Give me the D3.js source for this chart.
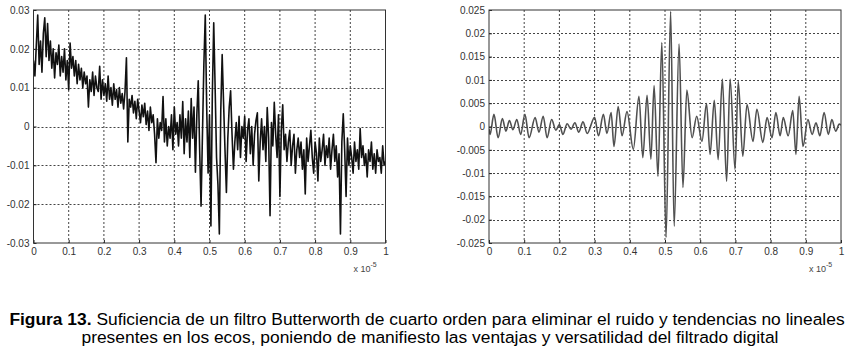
<!DOCTYPE html>
<html>
<head>
<meta charset="utf-8">
<script src="https://cdn.jsdelivr.net/npm/d3@7"></script>
<style>
  body { margin: 0; background: #fff; }
  svg { display: block; }
  text { font-family: "Liberation Sans", Arial, sans-serif; }
</style>
</head>
<body>
<div id="figure"></div>
<script>
// x axis (units of 1e-5)
const xTicks = [0, 0.1, 0.2, 0.3, 0.4, 0.5, 0.6, 0.7, 0.8, 0.9, 1];
const xTickLabels = ["0", "0.1", "0.2", "0.3", "0.4", "0.5", "0.6", "0.7", "0.8", "0.9", "1"];

// y axes (values stored x 1e-3)
const leftYTicks = [-30, -20, -10, 0, 10, 20, 30];
const leftYTickLabels = ["-0.03", "-0.02", "-0.01", "0", "0.01", "0.02", "0.03"];
const rightYTicks = [-25, -20, -15, -10, -5, 0, 5, 10, 15, 20, 25];
const rightYTickLabels = ["-0.025", "-0.02", "-0.015", "-0.01", "-0.005", "0", "0.005", "0.01", "0.015", "0.02", "0.025"];

// raw echo, sampled every 0.004 x 1e-5 (values x 1e-3)
const rawStep = 0.004;
const rawValues = [
  17, 13, 21, 28.7, 16, 22, 14, 24, 28, 18,
  26.5, 17, 22, 15, 20, 12.5, 19, 16, 21, 13,
  18, 14, 20, 12, 17, 9.5, 21.5, 15, 18, 13,
  17, 11, 16, 12, 15, 10, 14, 11, 13, 5,
  12, 9, 14, 8, 13, 10, 9, 15.5, 7, 12,
  8, 11, 6.5, 13, 7, 10, 5.5, 11, 7, 9.5,
  5, 10, 6, 8.5, 4.5, 9, 17.7, -4, 7, 5,
  8, 3.5, 6.5, 2, 7, 4, 1, 5.5, 2.5, 6,
  0.5, 4, -1, 5, 1, 3, -2, -9.3, 2, -3,
  1, -1, 7.7, -4, 2, -5, 0, -3, 3, -6,
  5, -2, 1, -5, 3, -3, 6.4, -7, 2, -4,
  4, -8, 7.2, -3, 5, -11.8, 3, 11.8, -6, -20.5,
  -2, 16, 28.7, 5, -12, 3, -25.6, 8, 26.7, 10,
  -8, -15, -27.7, 4, 18.5, 6, -6, -17, -3, 5,
  9.2, -2, -11, -4, 1, -6, 2.6, -8, 0, -3,
  2.6, -9, -1, 2, -7, 0, -10, -2, 1.5, 3.5,
  -14, -4, 2, -6, 0, -9, 4.9, -3, -23, 1,
  -5, 6.2, -2, -8, 3, -18, -1, 5.6, -6, -2,
  -9, -4, -1, -10, -5, -2, -12, -6, -3, -8,
  -4, -11, -6, -17.4, -3, -9, -5, -1, -8, -12,
  -4, -7, -14, -3, -9, -6, -2, -10, -5, -8,
  -3, -11, -6, -2, -9, -5, -13, -7, -27.7, -4,
  3.3, -6, -18, -3, -10, -5, -8, -12, -4, -9,
  -6, -11, -0.5, -8, -5, -10, -7, -13, -6, -9,
  -4, -11, -7, -12, -6, -9, -8, -12, -5, -10,
  -9
];

// filtered echo: peaks and troughs
const filteredX = [
  0, 0.003, 0.014, 0.026, 0.038, 0.048, 0.058, 0.068, 0.079, 0.090,
  0.102, 0.114, 0.131, 0.142, 0.154, 0.165, 0.178, 0.190, 0.200, 0.210,
  0.222, 0.233, 0.244, 0.255, 0.267, 0.279, 0.300, 0.311, 0.325, 0.335,
  0.347, 0.355, 0.367, 0.378, 0.392, 0.410, 0.426, 0.437, 0.449, 0.460,
  0.469, 0.480, 0.491, 0.503, 0.516, 0.526, 0.540, 0.551, 0.562, 0.577,
  0.590, 0.605, 0.618, 0.628, 0.640, 0.651, 0.663, 0.675, 0.685, 0.699,
  0.708, 0.721, 0.733, 0.750, 0.761, 0.778, 0.790, 0.804, 0.815, 0.827,
  0.836, 0.850, 0.863, 0.872, 0.881, 0.892, 0.906, 0.918, 0.929, 0.940,
  0.952, 0.964, 0.974, 0.985, 0.995, 1
];
const filteredValues = [
  -0.5, -1.7, 2.6, -2.4, 1.7, -1.0, 1.3, -0.7, 1.5, -1.7,
  2.6, -2.4, 1.9, -1.2, 2.2, -2.4, 1.5, -0.8, 0.4, -1.7,
  0.6, -0.6, 0.8, -1.2, 1.0, -1.5, 2.0, -2.0, 2.6, -1.5,
  3.0, -4.3, 4.3, -2.0, 3.2, -4.9, 6.5, -6.7, 6.7, -7.0,
  8.8, -10.7, 18.0, -23.8, 24.7, -21.4, 17.7, -13.1, 7.8, -2.4,
  2.2, -3.2, 4.9, -6.0, 5.6, -7.1, 10.2, -11.8, 10.2, -9.2,
  9.7, -6.4, 4.7, -3.2, 3.7, -3.4, 1.9, -2.4, 3.0, -2.0,
  1.9, -2.0, 3.4, -6.0, 6.5, -4.3, 1.5, -1.7, 0.8, -2.0,
  3.0, -1.7, 1.5, -1.0, 0.5, 0.3
];

const width = 854;
const height = 350;
const plotTop = 10;
const plotBottom = 243;

const svg = d3
  .select("#figure")
  .append("svg")
  .attr("width", width)
  .attr("height", height);

function drawPanel(opts) {
  const g = svg.append("g");

  const xScale = d3.scaleLinear().domain([0, 1]).range([opts.left, opts.right]);
  const yScale = d3
    .scaleLinear()
    .domain(opts.yDomain)
    .range([plotBottom, plotTop]);

  // dotted grid
  g.append("g")
    .selectAll("line")
    .data(xTicks.slice(1, -1))
    .join("line")
    .attr("x1", (d) => xScale(d))
    .attr("x2", (d) => xScale(d))
    .attr("y1", plotTop)
    .attr("y2", plotBottom)
    .attr("stroke", "#444")
    .attr("stroke-width", 1)
    .attr("stroke-dasharray", "2,2");

  g.append("g")
    .selectAll("line")
    .data(opts.yTicks.slice(1, -1))
    .join("line")
    .attr("x1", opts.left)
    .attr("x2", opts.right)
    .attr("y1", (d) => Math.round(yScale(d)) + 0.5)
    .attr("y2", (d) => Math.round(yScale(d)) + 0.5)
    .attr("stroke", "#444")
    .attr("stroke-width", 1)
    .attr("stroke-dasharray", "2,2");

  // clip for signal
  const clipId = "clip-" + opts.name;
  svg
    .append("clipPath")
    .attr("id", clipId)
    .append("rect")
    .attr("x", opts.left)
    .attr("y", plotTop)
    .attr("width", opts.right - opts.left)
    .attr("height", plotBottom - plotTop);

  const line = d3
    .line()
    .x((d) => xScale(d.x))
    .y((d) => yScale(d.y))
    .curve(opts.curve);

  g.append("path")
    .datum(opts.data)
    .attr("clip-path", `url(#${clipId})`)
    .attr("fill", "none")
    .attr("stroke", opts.stroke)
    .attr("stroke-width", opts.strokeWidth)
    .attr("stroke-linejoin", "round")
    .attr("d", line);

  // axes
  const xAxisG = g
    .append("g")
    .attr("transform", `translate(0,${plotBottom})`)
    .call(
      d3
        .axisBottom(xScale)
        .tickValues(xTicks)
        .tickFormat((d, i) => xTickLabels[i])
        .tickSize(-3)
        .tickPadding(5)
    );
  xAxisG.select(".domain").remove();

  const yAxisG = g
    .append("g")
    .attr("transform", `translate(${opts.left},0)`)
    .call(
      d3
        .axisLeft(yScale)
        .tickValues(opts.yTicks)
        .tickFormat((d, i) => opts.yTickLabels[i])
        .tickSize(-3)
        .tickPadding(4)
    );
  yAxisG.select(".domain").remove();

  g.selectAll(".tick line").attr("stroke", "#222");
  g.selectAll(".tick text")
    .attr("fill", "#333")
    .style("font-size", "10px")
    .style("font-family", '"Liberation Sans", Arial, sans-serif');

  // frame
  g.append("rect")
    .attr("x", opts.left)
    .attr("y", plotTop)
    .attr("width", opts.right - opts.left)
    .attr("height", plotBottom - plotTop)
    .attr("fill", "none")
    .attr("stroke", "#333")
    .attr("stroke-width", 1);

  // exponent label
  const expLabel = g
    .append("text")
    .attr("x", opts.right - 32)
    .attr("y", 272)
    .attr("fill", "#444")
    .style("font-size", "9px");
  expLabel.append("tspan").text("x 10");
  expLabel
    .append("tspan")
    .attr("dy", -5)
    .style("font-size", "7px")
    .text("-5");
}

// Draw raw echo
drawPanel({
  name: "raw",
  left: 33.5,
  right: 385.5,
  yDomain: [-30, 30],
  yTicks: leftYTicks,
  yTickLabels: leftYTickLabels,
  data: rawValues.map((v, i) => ({ x: i * rawStep, y: v })),
  curve: d3.curveLinear,
  stroke: "#111",
  strokeWidth: 1.6,
});

// Draw filtered echo
drawPanel({
  name: "filtered",
  left: 489,
  right: 841,
  yDomain: [-25, 25],
  yTicks: rightYTicks,
  yTickLabels: rightYTickLabels,
  data: filteredX.map((x, i) => ({ x, y: filteredValues[i] })),
  curve: d3.curveMonotoneX,
  stroke: "#505050",
  strokeWidth: 1.6,
});

// Draw caption
const caption = svg
  .append("text")
  .attr("text-anchor", "middle")
  .attr("x", 427)
  .attr("y", 325)
  .attr("fill", "#000")
  .style("font-size", "17.4px");
caption
  .append("tspan")
  .style("font-weight", "bold")
  .text("Figura 13.");
caption
  .append("tspan")
  .text(" Suficiencia de un filtro Butterworth de cuarto orden para eliminar el ruido y tendencias no lineales");

svg
  .append("text")
  .attr("text-anchor", "middle")
  .attr("x", 430)
  .attr("y", 343)
  .attr("fill", "#000")
  .style("font-size", "17.4px")
  .text("presentes en los ecos, poniendo de manifiesto las ventajas y versatilidad del filtrado digital");
</script>
</body>
</html>
